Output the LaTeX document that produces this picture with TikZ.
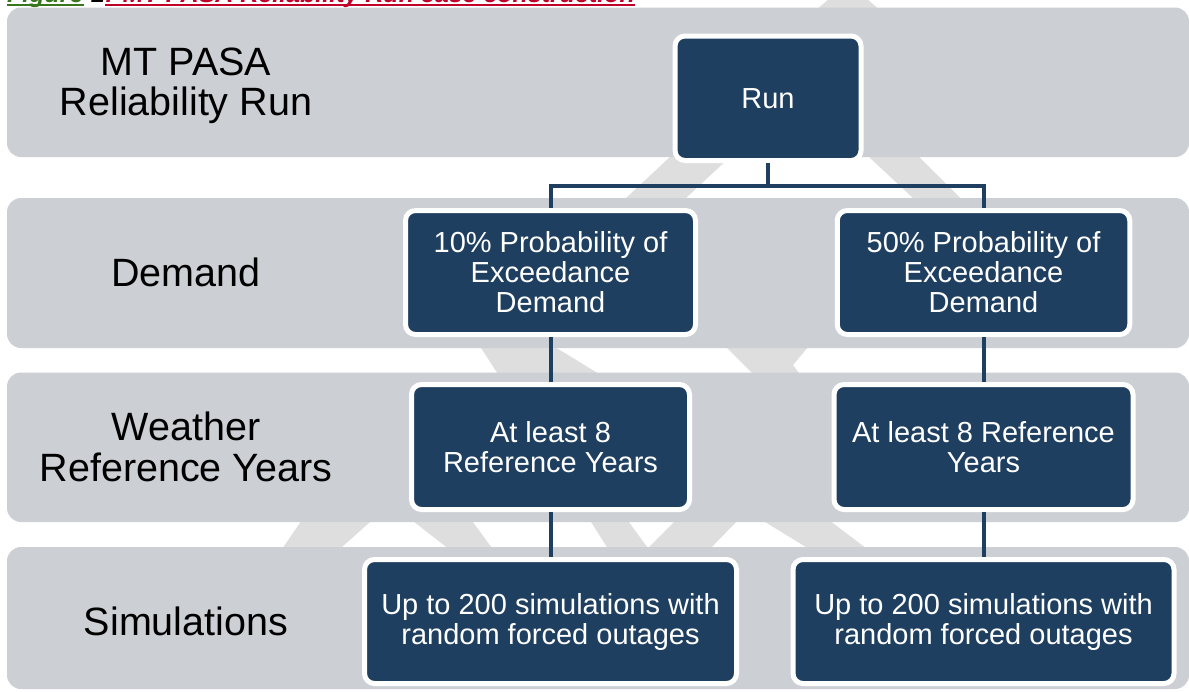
\documentclass[tikz,border=0pt]{standalone}
\usepackage{fontspec}
\setmainfont{Liberation Sans}
\definecolor{bandgray}{RGB}{204,207,212}
\definecolor{navy}{RGB}{31,63,97}
\definecolor{wmgray}{RGB}{222,222,222}
\definecolor{figgreen}{RGB}{56,118,29}
\definecolor{capred}{RGB}{192,0,40}
\newcommand{\lblfont}{\fontsize{39.5}{40.5}\selectfont}
\newcommand{\boxfont}{\fontsize{29}{30}\selectfont}
\newcommand{\capfont}{\fontsize{25}{26}\selectfont\bfseries\itshape}
\tikzset{
  band/.style={fill=bandgray, rounded corners=14pt},
  boxnode/.style={draw=white, line width=5pt, fill=navy, rounded corners=10pt,
    text=white, align=center, inner sep=0pt, font=\boxfont},
  lbl/.style={align=center, font=\lblfont, text=black, inner sep=0pt},
  conn/.style={draw=navy, line width=4pt},
  wm/.style={fill=wmgray},
  capnode/.style={inner sep=0pt, font=\capfont, anchor=base west}
}
\begin{document}
\begin{tikzpicture}[x=1pt,y=-1pt]
\useasboundingbox (0,0) rectangle (1189,691);
\clip (0,0) rectangle (1189,691);
\fill[white] (0,0) rectangle (1189,691);

% caption (cut off at the top edge)
\node[capnode, text=figgreen] (capfig) at (7,2) {Figure};
\node[capnode, text=black] (capnum) at (capfig.base east) {\ 1};
\node[capnode, text=capred] (captxt) at (capnum.base east) {: MT PASA Reliability Run case construction};
\draw[figgreen, line width=1.5pt] ([yshift=-3pt]capfig.base west) -- ([yshift=-3pt]capfig.base east);
\draw[capred, line width=1.5pt] ([yshift=-3pt]captxt.base west) -- ([yshift=-3pt]captxt.base east);

% watermark pieces visible between the bands
\fill[wm] (805,20) -- (830,-2) .. controls (848,-10) .. (866,-2) -- (891,20) -- cycle;
\fill[wm] (677.5,150) -- (737.5,150) -- (678.5,205) -- (618.5,205) -- cycle;
\fill[wm] (861.5,150) -- (912,150) -- (967.5,205) -- (920.5,205) -- cycle;
\fill[wm] (476,340) -- (543.4,340) -- (609,380) -- (501.7,380) -- cycle;
\fill[wm] (719,340) -- (814,340) -- (793,365) -- (804,380) -- (759,380) -- cycle;
\fill[wm] (306,514) -- (379,514) -- (333,555) -- (278,555) -- cycle;
\fill[wm] (404,514) -- (467,514) -- (497,555) -- (456.5,555) -- cycle;
\fill[wm] (586,514) -- (623,514) -- (653,555) -- (612,555) -- cycle;
\fill[wm] (682,514) -- (744,514) -- (704,555) -- (641,555) -- cycle;
\fill[wm] (752,514) -- (821,514) -- (875,555) -- (819,555) -- cycle;

% bands
\path[band] (7,7.5) rectangle (1189,157);
\path[band] (7,198) rectangle (1189,348);
\path[band] (7,372.5) rectangle (1189,522);
\path[band] (7,547) rectangle (1189,689);

% row labels
\node[lbl] (l1) at (186,86) {MT PASA\\Reliability Run};
\node[lbl] (l2) at (186,272) {Demand};
\node[lbl] (l3) at (186,447) {Weather\\Reference Years};
\node[lbl] (l4) at (186,621) {Simulations};

% boxes
\node[boxnode, minimum width=186pt, minimum height=124.5pt] (run) at (768,98.25) {Run};
\node[boxnode, minimum width=290pt, minimum height=124pt] (d1) at (550.5,272.5) {10\% Probability of\\Exceedance\\Demand};
\node[boxnode, minimum width=292.5pt, minimum height=124pt] (d2) at (983.5,272.5) {50\% Probability of\\Exceedance\\Demand};
\node[boxnode, minimum width=278pt, minimum height=125pt] (w1) at (550.5,447) {At least 8\\Reference Years};
\node[boxnode, minimum width=299pt, minimum height=125pt] (w2) at (983.5,447) {At least 8 Reference\\Years};
\node[boxnode, minimum width=372pt, minimum height=124pt] (s1) at (550.5,621.5) {Up to 200 simulations with\\random forced outages};
\node[boxnode, minimum width=381pt, minimum height=124pt] (s2) at (983.5,621.5) {Up to 200 simulations with\\random forced outages};

% connectors
\coordinate (bar) at (768,185.5);
\draw[conn] (run.south) -- (bar);
\draw[conn] (d1.north) |- (bar) -| (d2.north);
\draw[conn] (d1.south) -- (w1.north);
\draw[conn] (d2.south) -- (w2.north);
\draw[conn] (w1.south) -- (s1.north);
\draw[conn] (w2.south) -- (s2.north);
\end{tikzpicture}
\end{document}
